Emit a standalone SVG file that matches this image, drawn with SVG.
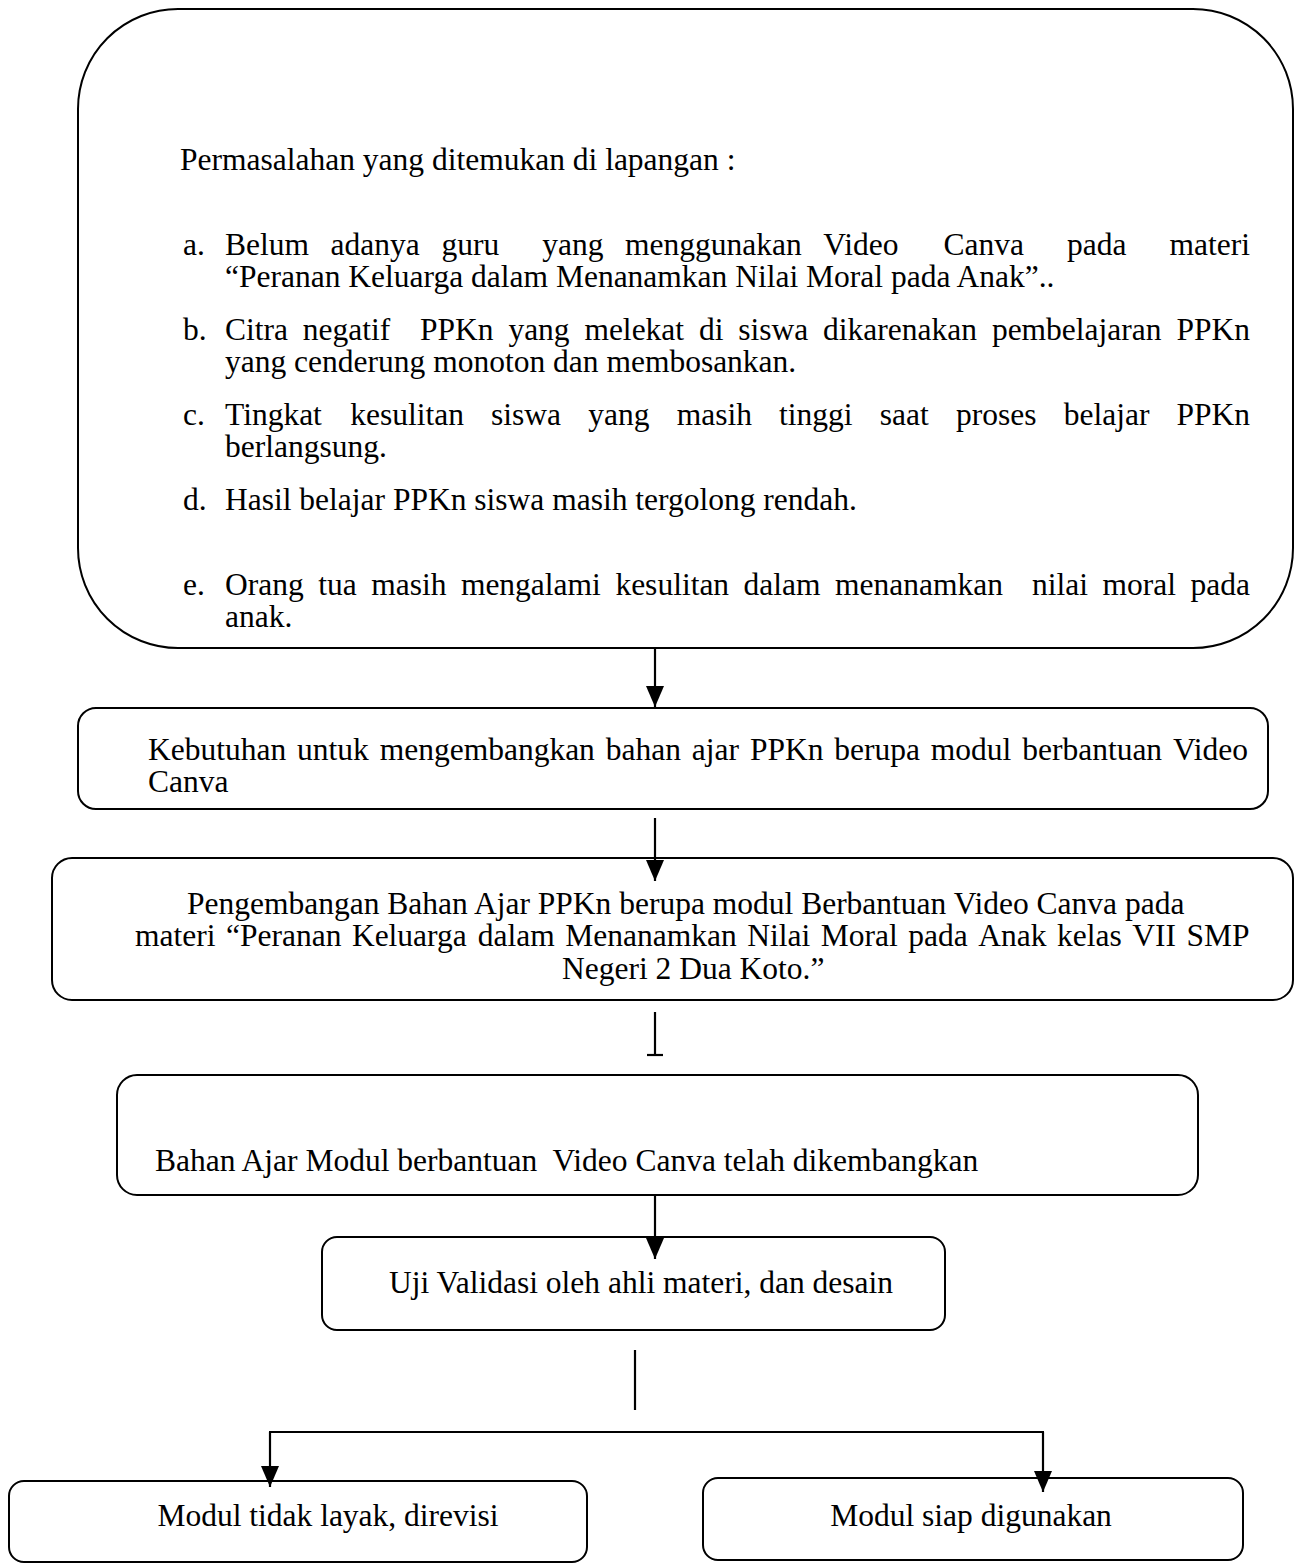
<svg xmlns="http://www.w3.org/2000/svg" width="1295" height="1566" viewBox="0 0 1295 1566">
<defs>
<style>
.box{fill:#fff;stroke:#000;stroke-width:2}
.t{font-family:"Liberation Serif","Times New Roman",serif;font-size:31.5px;fill:#000}
.c{text-anchor:middle}
.ln{stroke:#000;stroke-width:2.2;fill:none}
</style>
<marker id="arr" markerUnits="userSpaceOnUse" markerWidth="22" markerHeight="20" viewBox="0 0 22 20" refX="21" refY="10" orient="auto">
<path d="M0,1 L21,10 L0,19 Z" fill="#000"/>
</marker>
</defs>

<g id="node-problems">
<rect class="box" x="78" y="9" width="1215" height="639" rx="100" ry="100" style="fill:none"/>
<text class="t" x="180" y="170">Permasalahan yang ditemukan di lapangan :</text>
<text class="t" x="183" y="255">a.</text>
<text class="t" y="255"><tspan x="225">Belum</tspan><tspan x="330.6">adanya</tspan><tspan x="441.4">guru</tspan><tspan x="542.2">yang</tspan><tspan x="625">menggunakan</tspan><tspan x="823.3">Video</tspan><tspan x="943.4">Canva</tspan><tspan x="1067">pada</tspan><tspan x="1169.6">materi</tspan></text>
<text class="t" x="225" y="287">“Peranan Keluarga dalam Menanamkan Nilai Moral pada Anak”..</text>
<text class="t" x="183" y="340">b.</text>
<text class="t" y="340"><tspan x="225">Citra</tspan><tspan x="302.8">negatif</tspan><tspan x="420">PPKn</tspan><tspan x="508.4">yang</tspan><tspan x="584.4">melekat</tspan><tspan x="699">di</tspan><tspan x="738.3">siswa</tspan><tspan x="823.1">dikarenakan</tspan><tspan x="991.9">pembelajaran</tspan><tspan x="1176.5">PPKn</tspan></text>
<text class="t" x="225" y="372">yang cenderung monoton dan membosankan.</text>
<text class="t" x="183" y="425">c.</text>
<text class="t" y="425"><tspan x="225">Tingkat</tspan><tspan x="350.2">kesulitan</tspan><tspan x="491.1">siswa</tspan><tspan x="588.3">yang</tspan><tspan x="676.7">masih</tspan><tspan x="779.1">tinggi</tspan><tspan x="879.8">saat</tspan><tspan x="956">proses</tspan><tspan x="1063.7">belajar</tspan><tspan x="1176.5">PPKn</tspan></text>
<text class="t" x="225" y="457">berlangsung.</text>
<text class="t" x="183" y="510">d.</text>
<text class="t" x="225" y="510">Hasil belajar PPKn siswa masih tergolong rendah.</text>
<text class="t" x="183" y="595">e.</text>
<text class="t" y="595"><tspan x="225">Orang</tspan><tspan x="318.2">tua</tspan><tspan x="371.2">masih</tspan><tspan x="460.9">mengalami</tspan><tspan x="615.4">kesulitan</tspan><tspan x="743.6">dalam</tspan><tspan x="835.1">menanamkan</tspan><tspan x="1032">nilai</tspan><tspan x="1102.5">moral</tspan><tspan x="1190.5">pada</tspan></text>
<text class="t" x="225" y="627">anak.</text>
</g>

<g id="node-need">
<rect class="box" x="78" y="708" width="1190" height="101" rx="18" ry="18"/>
<text class="t" y="760"><tspan x="148">Kebutuhan</tspan><tspan x="297.1">untuk</tspan><tspan x="379.7">mengembangkan</tspan><tspan x="605.8">bahan</tspan><tspan x="691.8">ajar</tspan><tspan x="749.9">PPKn</tspan><tspan x="834.3">berupa</tspan><tspan x="930.8">modul</tspan><tspan x="1022.2">berbantuan</tspan><tspan x="1173">Video</tspan></text>
<text class="t" x="148" y="792">Canva</text>
</g>

<g id="node-development">
<rect class="box" x="52" y="858" width="1241" height="142" rx="20" ry="20"/>
<text class="t" x="187" y="914">Pengembangan Bahan Ajar PPKn berupa modul Berbantuan Video Canva pada</text>
<text class="t" y="946"><tspan x="135">materi</tspan><tspan x="226">“Peranan</tspan><tspan x="351.9">Keluarga</tspan><tspan x="477.8">dalam</tspan><tspan x="565.3">Menanamkan</tspan><tspan x="747.3">Nilai</tspan><tspan x="820.8">Moral</tspan><tspan x="908.3">pada</tspan><tspan x="978.3">Anak</tspan><tspan x="1057">kelas</tspan><tspan x="1132.2">VII</tspan><tspan x="1186.4">SMP</tspan></text>
<text class="t" x="562" y="979">Negeri 2 Dua Koto.”</text>
</g>

<g id="node-developed">
<rect class="box" x="117" y="1075" width="1081" height="120" rx="20" ry="20"/>
<text class="t" x="155" y="1171" xml:space="preserve">Bahan Ajar Modul berbantuan  Video Canva telah dikembangkan</text>
</g>

<g id="node-validation">
<rect class="box" x="322" y="1237" width="623" height="93" rx="15" ry="15"/>
<text class="t c" x="641" y="1293">Uji Validasi oleh ahli materi, dan desain</text>
</g>

<g id="node-revise">
<rect class="box" x="9" y="1481" width="578" height="81" rx="15" ry="15"/>
<text class="t c" x="328" y="1526">Modul tidak layak, direvisi</text>
</g>

<g id="node-ready">
<rect class="box" x="703" y="1478" width="540" height="82" rx="15" ry="15"/>
<text class="t c" x="971" y="1526">Modul siap digunakan</text>
</g>

<g id="connectors">
<line class="ln" x1="655" y1="648" x2="655" y2="707" marker-end="url(#arr)"/>
<line class="ln" x1="655" y1="818" x2="655" y2="881" marker-end="url(#arr)"/>
<line class="ln" x1="655" y1="1012" x2="655" y2="1055"/>
<line class="ln" x1="647" y1="1055" x2="663" y2="1055"/>
<line class="ln" x1="655" y1="1195" x2="655" y2="1259" marker-end="url(#arr)"/>
<line class="ln" x1="635" y1="1350" x2="635" y2="1410"/>
<line class="ln" x1="269" y1="1432" x2="1044" y2="1432"/>
<line class="ln" x1="270" y1="1432" x2="270" y2="1487" marker-end="url(#arr)"/>
<line class="ln" x1="1043" y1="1432" x2="1043" y2="1492" marker-end="url(#arr)"/>
</g>
</svg>
